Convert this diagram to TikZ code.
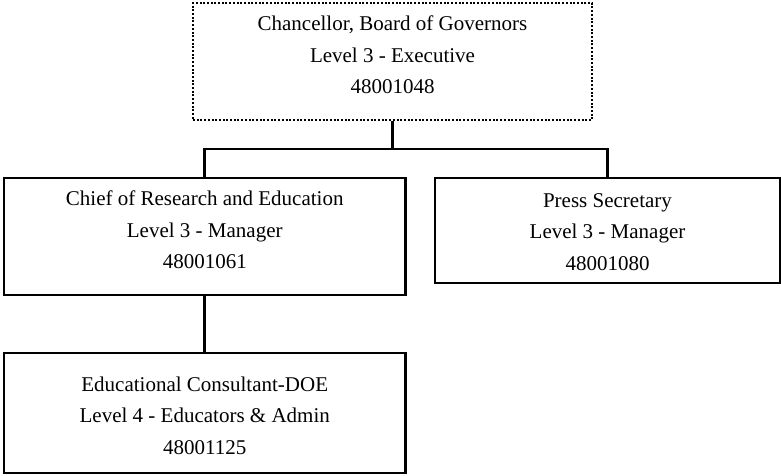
\documentclass[tikz,border=0pt]{standalone}
\usepackage{fontspec}
\setmainfont{Liberation Serif}
\begin{document}
\begin{tikzpicture}[x=1pt,y=-1pt,
  box/.style={draw=black, line width=2.6pt, rectangle, inner sep=0pt},
  dottedbox/.style={box, line width=2pt, dash pattern=on 2pt off 1.7pt},
  caption/.style={align=center, inner sep=0pt, text=black,
    font=\fontsize{21}{31.5}\selectfont},
  link/.style={draw=black, line width=2.6pt}]
\useasboundingbox (0,0) rectangle (781,475);

% position boxes
\node[dottedbox, minimum width=399pt, minimum height=117pt] (chancellor) at (392.5,61.5) {};
\node[box, minimum width=401.5pt, minimum height=117pt] (chief) at (204.75,236.5) {};
\node[box, minimum width=345pt, minimum height=105pt] (press) at (607.5,230.5) {};
\node[box, minimum width=401.5pt, minimum height=120pt] (consultant) at (204.75,413) {};

% titles, levels and position numbers
\node[caption] (chancellor-text) at (392.5,55) {Chancellor, Board of Governors\\Level 3 - Executive\\48001048};
\node[caption] (chief-text) at (204.75,230) {Chief of Research and Education\\Level 3 - Manager\\48001061};
\node[caption] (press-text) at (607.5,232) {Press Secretary\\Level 3 - Manager\\48001080};
\node[caption] (consultant-text) at (204.75,415.5) {Educational Consultant-DOE\\Level 4 - Educators \& Admin\\48001125};

% reporting lines
\coordinate (bus) at (392.5,149);
\draw[link] (chancellor.south) -- (bus);
\draw[link] (chief.north) |- (bus) -| (press.north);
\draw[link] (chief.south) -- (consultant.north);
\end{tikzpicture}
\end{document}
